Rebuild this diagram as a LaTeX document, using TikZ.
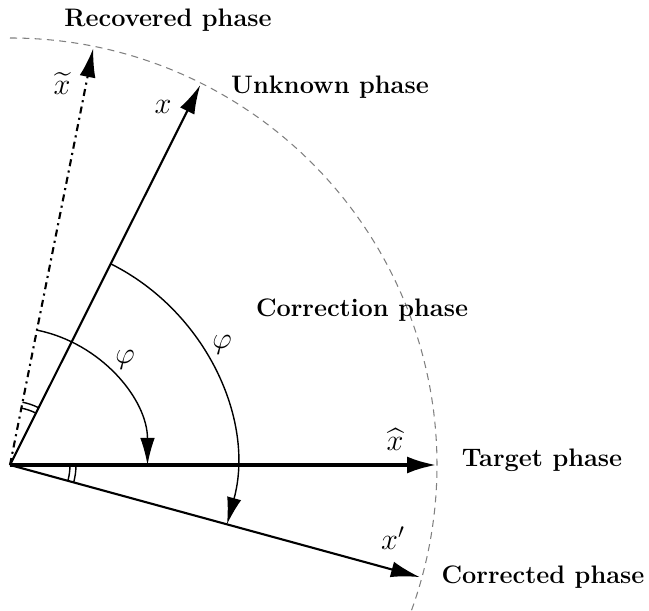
\documentclass[tikz,border=0pt]{standalone}
\usepackage{amsmath,amssymb}
\usepackage{tikz}
\usetikzlibrary{arrows.meta}

\tikzset{
  phasevec/.style={line width=1.2pt,-{Latex[length=5.8mm,width=3.2mm]}},
  anglearc/.style={line width=0.8pt,-{Latex[length=5.4mm,width=2.9mm]}},
  phaselabel/.style={font=\Large\bfseries},
  veclabel/.style={font=\LARGE}
}

\begin{document}
\begin{tikzpicture}[scale=1.0]
\useasboundingbox (-0.2,-2.92) rectangle (12.78,9.3);
\coordinate (O) at (0,0);
\coordinate (xt) at (78.7:8.5);
\coordinate (xu) at (63.4:8.5);
\coordinate (xh) at (0:8.54);
\coordinate (xc) at (-15.3:8.5);
% reference circle
\draw[gray,dashed,line width=0.6pt,dash pattern=on 4pt off 3pt] (90:8.54) arc[start angle=90,end angle=-20,radius=8.54];
% phase vectors
\draw[phasevec,dash pattern=on 4pt off 2.5pt on 1.2pt off 2.5pt] (O) -- (xt);
\draw[phasevec] (O) -- (xu);
\draw[phasevec] (O) -- (xc);
\draw[line width=2.4pt,-{Latex[length=6mm,width=3.4mm]}] (O) -- (xh);
% rotation by phi
\draw[anglearc] (78.7:2.75) arc[start angle=78.7,end angle=0,radius=2.75];
\draw[anglearc] (63.4:4.5) arc[start angle=63.4,end angle=-15.3,radius=4.5];
% equal angle marks
\draw[line width=0.8pt] (63.4:1.16) arc[start angle=63.4,end angle=78.7,radius=1.16];
\draw[line width=0.8pt] (63.4:1.28) arc[start angle=63.4,end angle=78.7,radius=1.28];
\draw[line width=0.8pt] (0:1.2) arc[start angle=0,end angle=-15.3,radius=1.2];
\draw[line width=0.8pt] (0:1.32) arc[start angle=0,end angle=-15.3,radius=1.32];
% labels
\node[veclabel] (lxt) at (1.04,7.62) {$\widetilde{x}$};
\node[veclabel] (lxu) at (3.06,7.16) {$x$};
\node[veclabel] (lxh) at (7.7,0.5) {$\widehat{x}$};
\node[veclabel] (lxc) at (7.66,-1.46) {$x'$};
\node[veclabel] (phione) at (2.3,2.1) {$\varphi$};
\node[veclabel] (phitwo) at (4.24,2.4) {$\varphi$};
\node[phaselabel] (recovered) at (3.16,8.9) {Recovered phase};
\node[phaselabel] (unknown) at (6.4,7.56) {Unknown phase};
\node[phaselabel] (correction) at (7.04,3.1) {Correction phase};
\node[phaselabel] (target) at (10.64,0.1) {Target phase};
\node[phaselabel] (corrected) at (10.66,-2.24) {Corrected phase};
\end{tikzpicture}
\end{document}
